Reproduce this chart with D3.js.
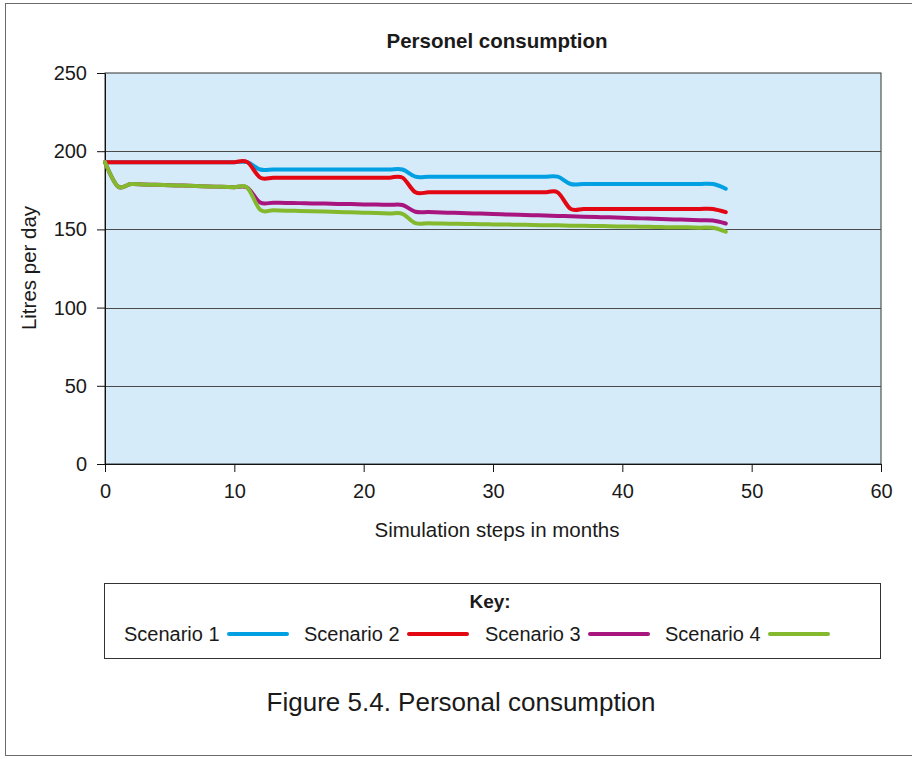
<!DOCTYPE html>
<html>

<head>
	<title>Personel consumption</title>
	<style>
		body,
		html {
			margin: 0;
			padding: 0;
			overflow: hidden;
			background: #fff;
		}

		svg {
			display: block;
		}

		svg text {
			font-family: 'Liberation Sans', Arial, Helvetica, sans-serif;
			fill: #1a1a1a;
		}
	</style>
</head>

<body>

	<svg id="svg" width="912" height="759"></svg>

	<script src="https://d3js.org/d3.v7.min.js"></script>
	<script>
		// Data - litres per day for each month of the simulation (0 - 48)
		const months = d3.range(0, 49)

		const scenarioNames = ['Scenario 1', 'Scenario 2', 'Scenario 3', 'Scenario 4']
		const scenarioColors = ['#00a0e3', '#e30613', '#a8157f', '#84b92e']

		const scenario1 = [
			193, 193, 193, 193, 193, 193, 193, 193, 193, 193, 193, 193,
			188.3, 188.3, 188.3, 188.3, 188.3, 188.3, 188.3, 188.3, 188.3, 188.3, 188.3, 188.3,
			183.7, 183.7, 183.7, 183.7, 183.7, 183.7, 183.7, 183.7, 183.7, 183.7, 183.7, 183.7,
			179, 179, 179, 179, 179, 179, 179, 179, 179, 179, 179, 179,
			176
		]

		const scenario2 = [
			193, 193, 193, 193, 193, 193, 193, 193, 193, 193, 193, 193,
			183.1, 183.1, 183.1, 183.1, 183.1, 183.1, 183.1, 183.1, 183.1, 183.1, 183.1, 183.1,
			173.7, 173.7, 173.7, 173.7, 173.7, 173.7, 173.7, 173.7, 173.7, 173.7, 173.7, 173.7,
			163.1, 163.1, 163.1, 163.1, 163.1, 163.1, 163.1, 163.1, 163.1, 163.1, 163.1, 163.1,
			161
		]

		const scenario3 = [
			193, 177.5, 179, 178.7, 178.5, 178.2, 178, 177.7, 177.5, 177.2, 177, 176.7,
			167.2, 167.1, 166.9, 166.8, 166.6, 166.5, 166.3, 166.2, 166, 165.9, 165.7, 165.6,
			161.3, 161.1, 160.8, 160.6, 160.3, 160.1, 159.8, 159.6, 159.4, 159.1, 158.9, 158.6,
			158.4, 158.1, 157.9, 157.7, 157.4, 157.2, 156.9, 156.7, 156.4, 156.2, 155.9, 155.7,
			153.8
		]

		const scenario4 = [
			193, 177.5, 179, 178.7, 178.5, 178.2, 178, 177.7, 177.5, 177.2, 177, 176.7,
			162.5, 162.3, 162, 161.8, 161.6, 161.4, 161.1, 160.9, 160.7, 160.5, 160.2, 160,
			154, 153.9, 153.7, 153.6, 153.5, 153.3, 153.2, 153.1, 153, 152.8, 152.7, 152.6,
			152.4, 152.3, 152.2, 152, 151.9, 151.8, 151.7, 151.5, 151.4, 151.3, 151.1, 151,
			148.5
		]

		const xTicks = [0, 10, 20, 30, 40, 50, 60]
		const yTicks = [0, 50, 100, 150, 200, 250]

		const series = [scenario1, scenario2, scenario3, scenario4]

		// Plot area
		const plot = { left: 105, right: 881, top: 73, bottom: 464 }

		const svg = d3.select('#svg')

		// Outer frame (right side runs off the page)
		svg.append('rect')
			.attr('x', 5.5)
			.attr('y', 3.5)
			.attr('width', 940)
			.attr('height', 752)
			.attr('fill', 'none')
			.attr('stroke', '#6b6b6b')

		// Scales
		const x = d3.scaleLinear()
			.domain([0, 60])
			.range([plot.left, plot.right])

		const y = d3.scaleLinear()
			.domain([0, 250])
			.range([plot.bottom, plot.top])

		// Background of the plot area
		svg.append('rect')
			.attr('x', plot.left)
			.attr('y', plot.top)
			.attr('width', plot.right - plot.left)
			.attr('height', plot.bottom - plot.top)
			.attr('fill', '#d5ebf9')
			.attr('stroke', '#333')

		// Horizontal grid lines
		svg.append('g')
			.selectAll('line')
			.data(yTicks.filter(d => d > 0 && d < 250))
			.join('line')
			.attr('x1', plot.left)
			.attr('x2', plot.right)
			.attr('y1', d => Math.round(y(d)) + 0.5)
			.attr('y2', d => Math.round(y(d)) + 0.5)
			.attr('stroke', '#4a4a4a')
			.attr('stroke-width', 1)

		// Axes
		svg.append('g')
			.attr('transform', `translate(${plot.left},0)`)
			.call(d3.axisLeft(y).tickValues(yTicks).tickSize(8).tickPadding(10).tickSizeOuter(0))

		svg.append('g')
			.attr('transform', `translate(0,${plot.bottom})`)
			.call(d3.axisBottom(x).tickValues(xTicks).tickSize(8).tickPadding(12).tickSizeOuter(0))

		svg.selectAll('.tick text')
			.attr('font-size', 20)
			.attr('fill', '#222')
			.style('font-family', "'Liberation Sans', Arial, sans-serif")

		svg.selectAll('.domain, .tick line')
			.attr('stroke', '#111')

		// Lines - smoothed like a spreadsheet chart
		const line = d3.line()
			.x((d, i) => x(months[i]))
			.y(d => y(d))
			.curve(d3.curveCardinal.tension(0))

		svg.append('g')
			.selectAll('path')
			.data(series)
			.join('path')
			.attr('d', line)
			.attr('fill', 'none')
			.attr('stroke', (d, i) => scenarioColors[i])
			.attr('stroke-width', 4)
			.attr('stroke-linecap', 'round')
			.attr('stroke-linejoin', 'round')

		// Titles
		svg.append('text')
			.attr('x', 497)
			.attr('y', 48)
			.attr('text-anchor', 'middle')
			.attr('font-size', 20.5)
			.attr('font-weight', 'bold')
			.text('Personel consumption')

		svg.append('text')
			.attr('transform', 'translate(36,268) rotate(-90)')
			.attr('text-anchor', 'middle')
			.attr('font-size', 20.5)
			.text('Litres per day')

		svg.append('text')
			.attr('x', 497)
			.attr('y', 537)
			.attr('text-anchor', 'middle')
			.attr('font-size', 20.5)
			.text('Simulation steps in months')

		// Legend
		const legend = svg.append('g')

		legend.append('rect')
			.attr('x', 104.5)
			.attr('y', 583.5)
			.attr('width', 776)
			.attr('height', 75)
			.attr('fill', '#fff')
			.attr('stroke', '#333')

		legend.append('text')
			.attr('x', 490)
			.attr('y', 608)
			.attr('text-anchor', 'middle')
			.attr('font-size', 19)
			.attr('font-weight', 'bold')
			.text('Key:')

		const legendX = [124, 304, 485, 665]

		const items = legend.selectAll('g.item')
			.data(scenarioNames)
			.join('g')
			.attr('class', 'item')
			.attr('transform', (d, i) => `translate(${legendX[i]},634)`)

		items.append('text')
			.attr('y', 7)
			.attr('font-size', 20)
			.text(d => d)

		items.append('line')
			.attr('x1', 105)
			.attr('x2', 163)
			.attr('stroke', (d, i) => scenarioColors[i])
			.attr('stroke-width', 4)
			.attr('stroke-linecap', 'round')

		// Caption
		svg.append('text')
			.attr('x', 461)
			.attr('y', 711)
			.attr('text-anchor', 'middle')
			.attr('font-size', 26)
			.text('Figure 5.4. Personal consumption')
	</script>
</body>
</html>
